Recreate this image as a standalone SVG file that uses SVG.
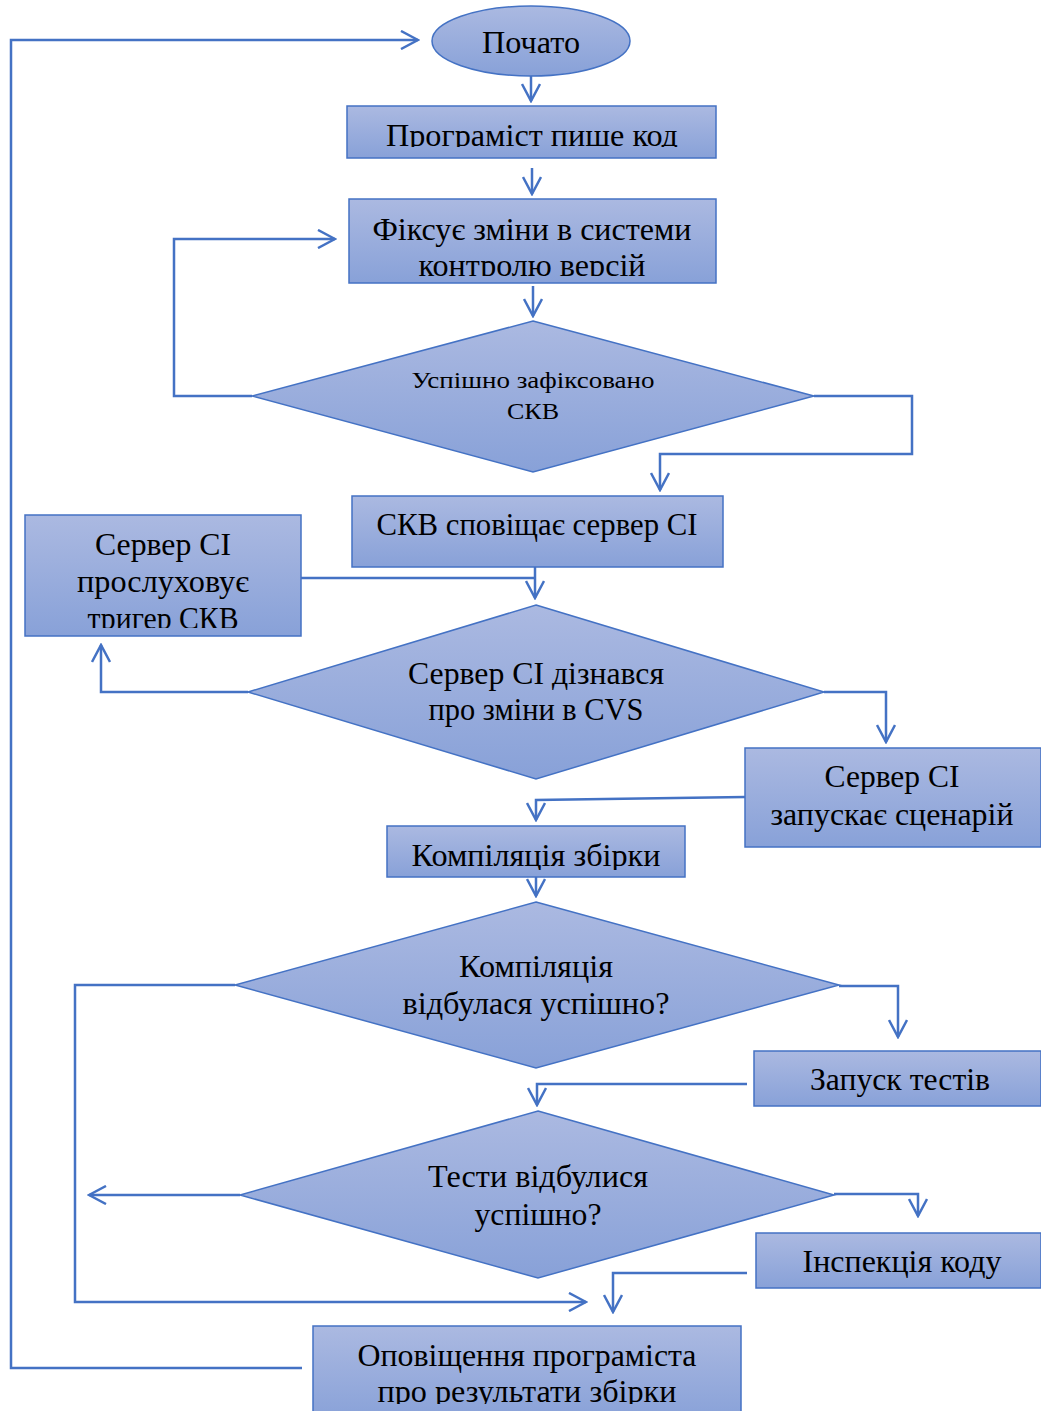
<svg xmlns="http://www.w3.org/2000/svg" width="1041" height="1411" viewBox="0 0 1041 1411">
<style>
.sh{fill:url(#g);stroke:#4472c4;stroke-width:1.5}
.t{font-family:"Liberation Serif","Times New Roman",serif;font-size:31px;fill:#000;text-anchor:middle}
.s{font-size:24px}
.c{fill:none;stroke:#4472c4;stroke-width:2.5;marker-end:url(#a)}
.l{fill:none;stroke:#4472c4;stroke-width:2.5}
</style>
<defs>
<linearGradient id="g" x1="0" y1="0" x2="0" y2="1">
<stop offset="0" stop-color="#abb9e1"/>
<stop offset="1" stop-color="#88a1d8"/>
</linearGradient>
<marker id="a" viewBox="0 0 20 20" refX="18" refY="10" markerWidth="20" markerHeight="20" markerUnits="userSpaceOnUse" orient="auto">
<path d="M1,1 L18,10 L1,19" fill="none" stroke="#4472c4" stroke-width="2.5"/>
</marker>
<clipPath id="k1"><rect x="347" y="106" width="369" height="41"/></clipPath>
<clipPath id="k2"><rect x="349" y="199" width="367" height="77"/></clipPath>
<clipPath id="k3"><rect x="25" y="515" width="276" height="113"/></clipPath>
<clipPath id="k4"><rect x="387" y="826" width="298" height="44"/></clipPath>
<clipPath id="k5"><rect x="313" y="1326" width="428" height="78"/></clipPath>
</defs>

<g id="connectors">
<path class="c" d="M531,76 V101"/>
<path class="c" d="M532,168 V194"/>
<path class="c" d="M533,286 V316"/>
<path class="c" d="M252,396 H174 V239 H335"/>
<path class="c" d="M814,396 H912 V454 H660 V490"/>
<path class="c" d="M535,567 V598"/>
<path class="l" d="M301,578 H535"/>
<path class="c" d="M248,692 H101 V645"/>
<path class="c" d="M824,692 H886 V742"/>
<path class="c" d="M745,797 L536,800 V820"/>
<path class="c" d="M536,877 V896"/>
<path class="c" d="M235,985 H75 V1302 H586"/>
<path class="c" d="M839,986 H898 V1037"/>
<path class="c" d="M747,1084 H537 V1105"/>
<path class="c" d="M240,1195 H89"/>
<path class="c" d="M834,1194 H918 V1216"/>
<path class="c" d="M747,1273 H613 V1312"/>
<path class="c" d="M302,1368 H11 V40 H418"/>
</g>

<g id="start">
<ellipse class="sh" cx="531" cy="41" rx="99" ry="35"/>
<text class="t" x="531" y="53" textLength="98" lengthAdjust="spacingAndGlyphs">Почато</text>
</g>

<g id="write-code">
<rect class="sh" x="347" y="106" width="369" height="52"/>
<text class="t" x="532" y="146" textLength="292" lengthAdjust="spacingAndGlyphs" clip-path="url(#k1)">Програміст пише код</text>
</g>

<g id="commit">
<rect class="sh" x="349" y="199" width="367" height="84"/>
<g clip-path="url(#k2)">
<text class="t" x="532" y="240" textLength="319" lengthAdjust="spacingAndGlyphs">Фіксує зміни в системи</text>
<text class="t" x="532" y="276" textLength="227" lengthAdjust="spacingAndGlyphs">контролю версій</text>
</g>
</g>

<g id="commit-ok">
<polygon class="sh" points="533,321 814,396 533,472 252,396"/>
<text class="t s" x="533" y="388" textLength="243" lengthAdjust="spacingAndGlyphs">Успішно зафіксовано</text>
<text class="t s" x="533" y="419" textLength="52" lengthAdjust="spacingAndGlyphs">СКВ</text>
</g>

<g id="vcs-notify">
<rect class="sh" x="352" y="496" width="371" height="71"/>
<text class="t" x="537" y="535" textLength="321" lengthAdjust="spacingAndGlyphs">СКВ сповіщає сервер CI</text>
</g>

<g id="ci-listen">
<rect class="sh" x="25" y="515" width="276" height="121"/>
<g clip-path="url(#k3)">
<text class="t" x="163" y="555" textLength="136" lengthAdjust="spacingAndGlyphs">Сервер CI</text>
<text class="t" x="163" y="592" textLength="172" lengthAdjust="spacingAndGlyphs">прослуховує</text>
<text class="t" x="163" y="629" textLength="151" lengthAdjust="spacingAndGlyphs">тригер СКВ</text>
</g>
</g>

<g id="ci-learned">
<polygon class="sh" points="536,605 824,692 536,779 248,692"/>
<text class="t" x="536" y="684" textLength="256" lengthAdjust="spacingAndGlyphs">Сервер CI дізнався</text>
<text class="t" x="536" y="720" textLength="215" lengthAdjust="spacingAndGlyphs">про зміни в CVS</text>
</g>

<g id="ci-run">
<rect class="sh" x="745" y="748" width="296" height="99"/>
<text class="t" x="892" y="787" textLength="135" lengthAdjust="spacingAndGlyphs">Сервер CI</text>
<text class="t" x="892" y="825" textLength="243" lengthAdjust="spacingAndGlyphs">запускає сценарій</text>
</g>

<g id="compile">
<rect class="sh" x="387" y="826" width="298" height="51"/>
<text class="t" x="536" y="866" textLength="249" lengthAdjust="spacingAndGlyphs" clip-path="url(#k4)">Компіляція збірки</text>
</g>

<g id="compile-ok">
<polygon class="sh" points="536,902 839,985 536,1068 235,985"/>
<text class="t" x="536" y="977" textLength="154" lengthAdjust="spacingAndGlyphs">Компіляція</text>
<text class="t" x="536" y="1014" textLength="267" lengthAdjust="spacingAndGlyphs">відбулася успішно?</text>
</g>

<g id="run-tests">
<rect class="sh" x="754" y="1051" width="287" height="55"/>
<text class="t" x="900" y="1090" textLength="180" lengthAdjust="spacingAndGlyphs">Запуск тестів</text>
</g>

<g id="tests-ok">
<polygon class="sh" points="538,1111 834,1195 538,1278 240,1195"/>
<text class="t" x="538" y="1187" textLength="220" lengthAdjust="spacingAndGlyphs">Тести відбулися</text>
<text class="t" x="538" y="1225" textLength="127" lengthAdjust="spacingAndGlyphs">успішно?</text>
</g>

<g id="inspect">
<rect class="sh" x="756" y="1233" width="285" height="55"/>
<text class="t" x="902" y="1272" textLength="199" lengthAdjust="spacingAndGlyphs">Інспекція коду</text>
</g>

<g id="notify-dev">
<rect class="sh" x="313" y="1326" width="428" height="95"/>
<g clip-path="url(#k5)">
<text class="t" x="527" y="1366" textLength="339" lengthAdjust="spacingAndGlyphs">Оповіщення програміста</text>
<text class="t" x="527" y="1402" textLength="299" lengthAdjust="spacingAndGlyphs">про результати збірки</text>
</g>
</g>
</svg>
